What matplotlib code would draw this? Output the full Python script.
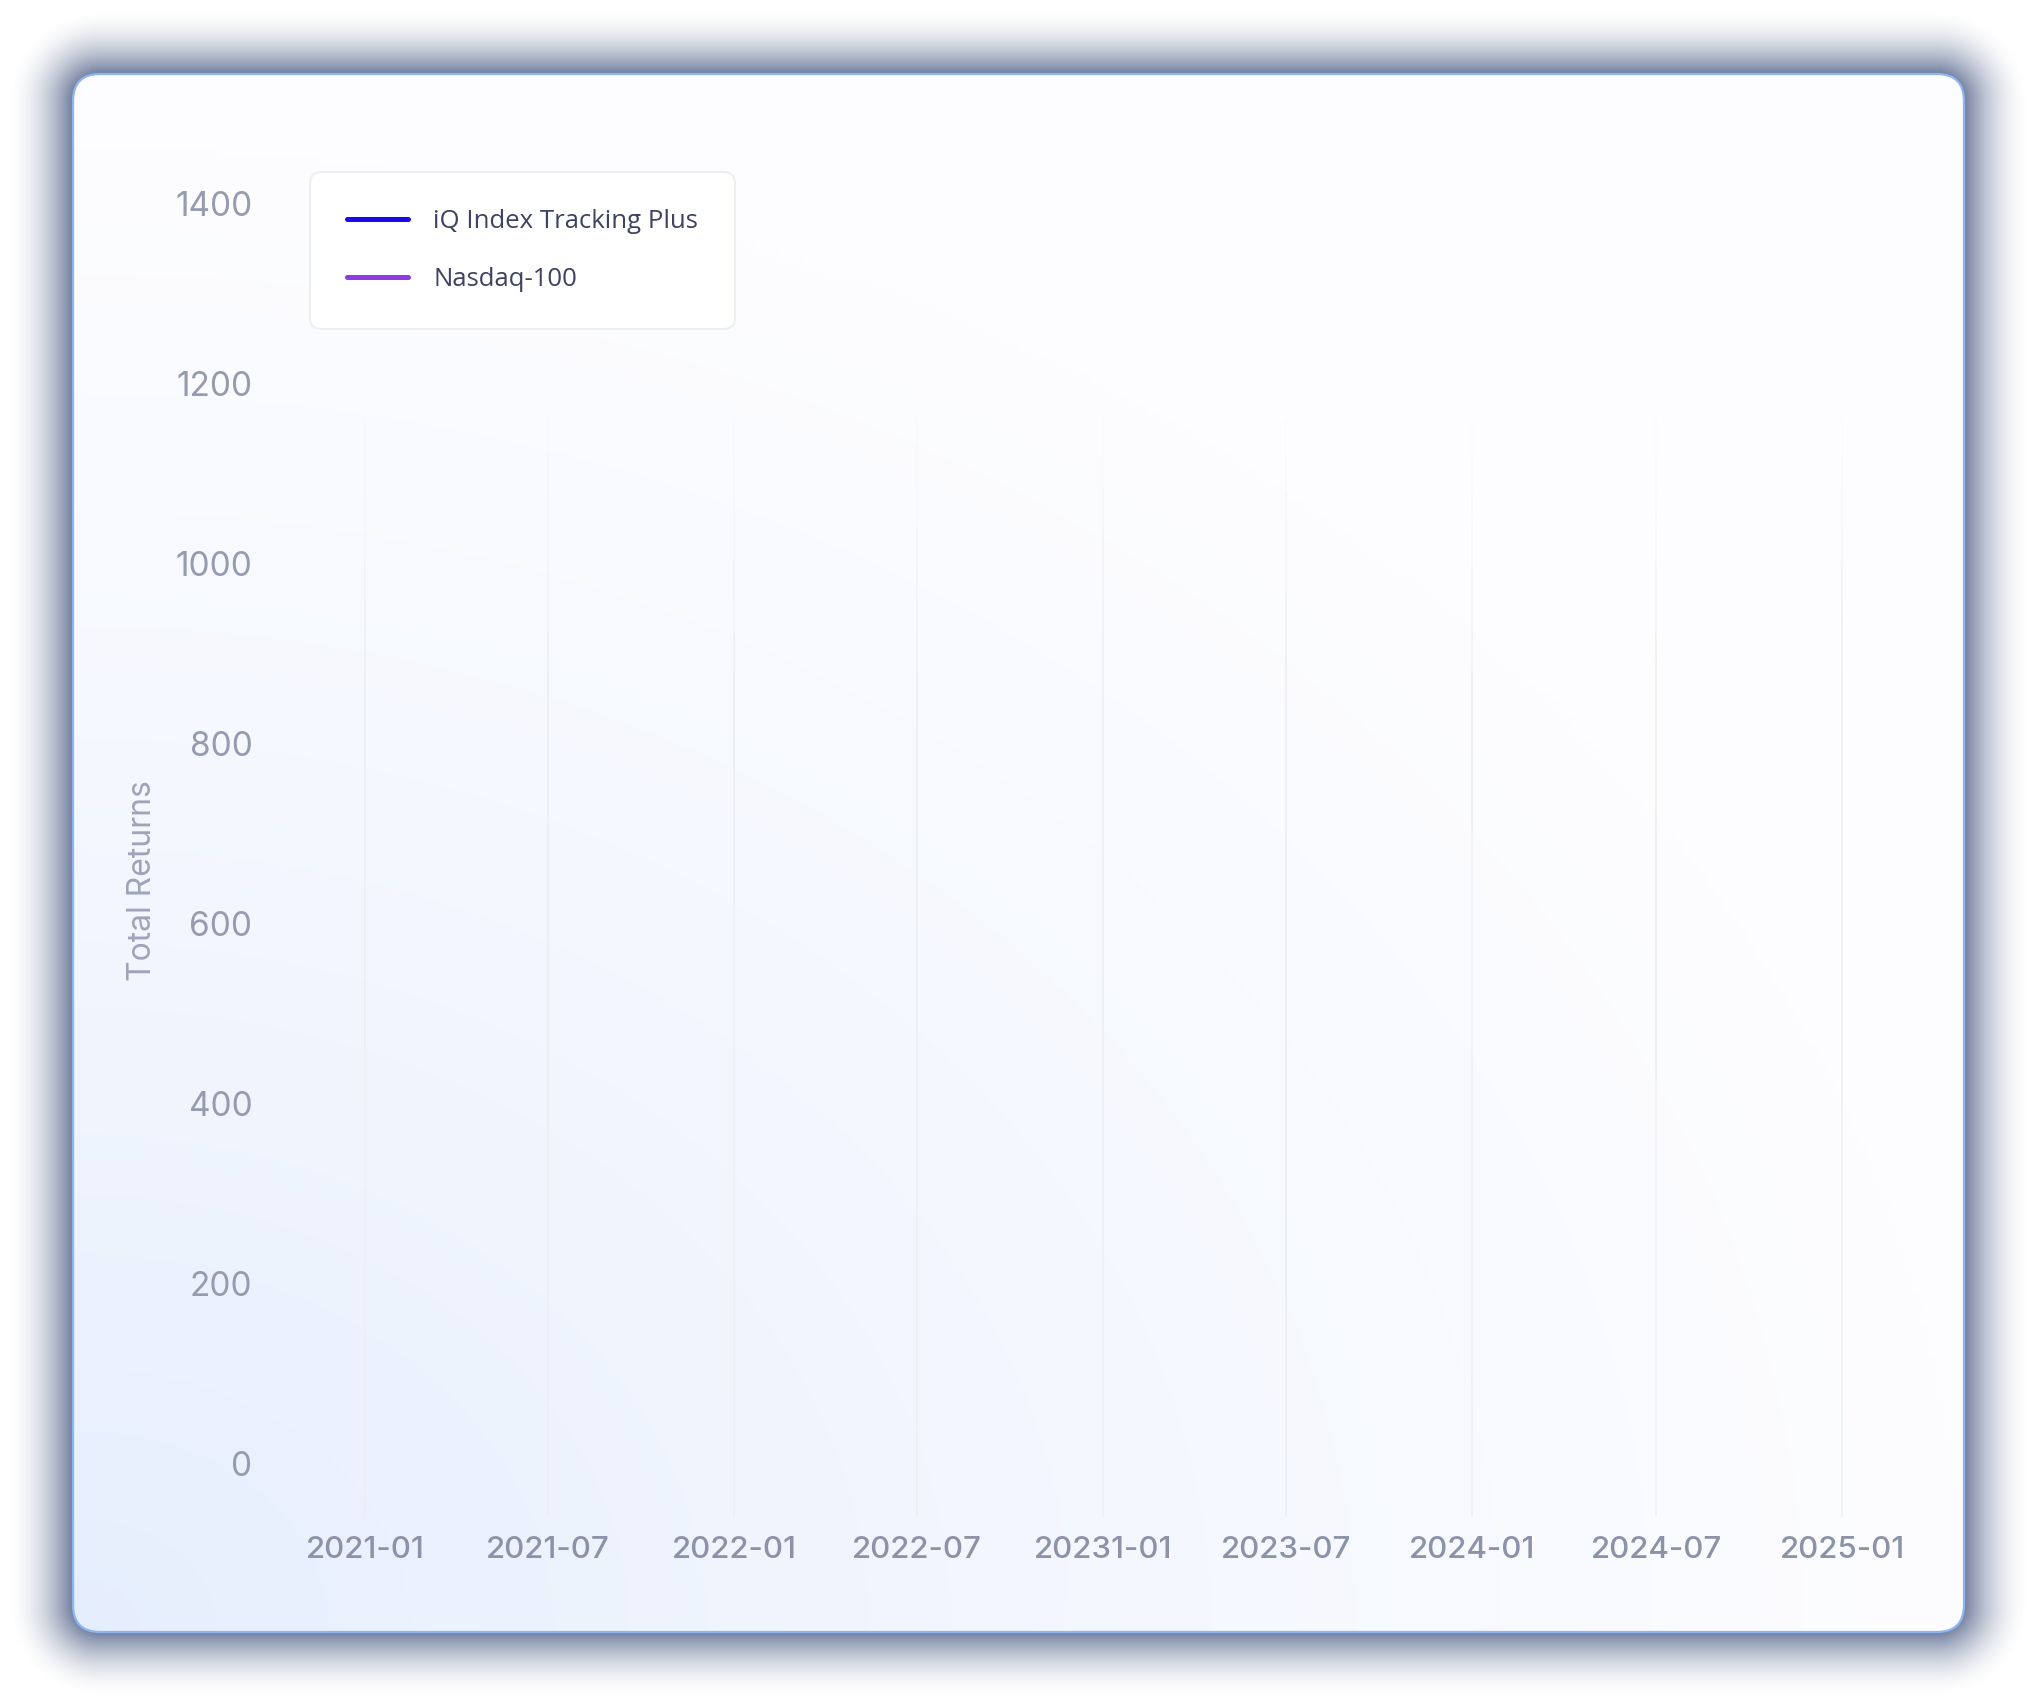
import numpy as np
import pandas as pd
import matplotlib
matplotlib.use("Agg")
import matplotlib.pyplot as plt
from matplotlib.patches import FancyBboxPatch

# data (series are empty in the reference, only the legend shows them)
series_names = ["iQ Index Tracking Plus", "Nasdaq-100"]
series_colors = ["#1a0aeb", "#8c3ce1"]
iq_dates = []
iq_values = []
ndx_dates = []
ndx_values = []

tick_dates = pd.to_datetime(["2021-01-01", "2021-07-01", "2022-01-01", "2022-07-01",
                             "2023-01-01", "2023-07-01", "2024-01-01", "2024-07-01",
                             "2025-01-01"])
tick_labels = ["2021-01", "2021-07", "2022-01", "2022-07", "20231-01",
               "2023-07", "2024-01", "2024-07", "2025-01"]
y_ticks = [0, 200, 400, 600, 800, 1000, 1200, 1400]

# sizes (pixels)
W, H = 2040, 1705
cx0, cy0, cx1, cy1 = 73, 74, 1964, 1632
rad = 27

fig = plt.figure(figsize=(W/100, H/100), dpi=100)
fig.patch.set_facecolor("white")

# background axes in pixel coords
bg = fig.add_axes([0, 0, 1, 1])
bg.set_xlim(0, W); bg.set_ylim(H, 0); bg.axis("off")

# shadow
yy, xx = np.mgrid[0:H, 0:W] + 0.5
mx, my = (cx0+cx1)/2, (cy0+cy1)/2
hx, hy = (cx1-cx0)/2, (cy1-cy0)/2
qx = np.abs(xx-mx) - (hx-rad)
qy = np.abs(yy-my) - (hy-rad)
d = np.hypot(np.maximum(qx, 0), np.maximum(qy, 0)) + np.minimum(np.maximum(qx, qy), 0) - rad
t = np.clip(d/66, 0, 1)
sh = np.zeros((H, W, 4))
sh[..., 0] = 40/255; sh[..., 1] = 61/255; sh[..., 2] = 109/255
sh[..., 3] = 0.66*(1-t)**1.9
bg.imshow(sh, extent=(0, W, H, 0), origin="upper", zorder=0, interpolation="bilinear")

# card with gradient
card = FancyBboxPatch((cx0, cy0), cx1-cx0, cy1-cy0,
                      boxstyle="round,pad=0,rounding_size=%d" % rad,
                      fc="none", ec="#8db5f3", lw=1.6, zorder=3)
bg.add_patch(card)
gy, gx = np.mgrid[0:200, 0:240]
u = gx/239.0
yb = 1 - gy/199.0
r = np.clip(np.hypot(u, yb*1.05), 0, 1)**0.8
c_blue = np.array([229, 238, 253])/255
c_white = np.array([253, 253, 255])/255
grad = c_blue[None, None, :] + (c_white-c_blue)[None, None, :]*r[..., None]
im = bg.imshow(grad, extent=(cx0, cx1, cy1, cy0), origin="upper", zorder=1,
               interpolation="bilinear")
clipper = FancyBboxPatch((cx0, cy0), cx1-cx0, cy1-cy0,
                         boxstyle="round,pad=0,rounding_size=%d" % rad,
                         fc="none", ec="none", transform=bg.transData)
bg.add_patch(clipper)
im.set_clip_path(clipper)

# main axes
ax_l, ax_r, ax_t, ax_b = 290, 1920, 158, 1517
ax = fig.add_axes([ax_l/W, 1-ax_b/H, (ax_r-ax_l)/W, (ax_b-ax_t)/H])
ax.set_facecolor("none")
for s in ax.spines.values():
    s.set_visible(False)

ax.plot(iq_dates, iq_values, color=series_colors[0], lw=3, label=series_names[0])
ax.plot(ndx_dates, ndx_values, color=series_colors[1], lw=3, label=series_names[1])

ax.set_xlim(tick_dates[0]-pd.Timedelta(days=74), tick_dates[-1]+pd.Timedelta(days=77))
ax.set_ylim(-60, 1450)

# gridlines fading out towards the top
ax.vlines(tick_dates, -60, 880, color="#eceff4", lw=1.2, zorder=0)
steps = np.linspace(880, 1160, 8)
for k in range(len(steps)-1):
    ax.vlines(tick_dates, steps[k], steps[k+1], color="#eceff4", lw=1.2, zorder=0,
              alpha=1-(k+1)/len(steps))

ax.set_xticks(tick_dates)
ax.set_xticklabels(tick_labels, fontfamily="Inter", fontsize=22.5, fontweight="medium", color="#8c93a8")
ax.set_yticks(y_ticks)
ax.set_yticklabels([str(v) for v in y_ticks], fontfamily="Inter", fontsize=24, color="#959cb0")
ax.tick_params(axis="x", length=0, pad=14)
ax.tick_params(axis="y", length=0, pad=27)

ax.set_ylabel("Total Returns", fontfamily="Inter", fontsize=23, color="#9ea5b8")
ax.yaxis.label.set_va("center")
ax.yaxis.set_label_coords((143-ax_l)/(ax_r-ax_l), (ax_b-881)/(ax_b-ax_t))

leg = ax.legend(loc="upper left", bbox_to_anchor=(310/W, 1-172/H), bbox_transform=fig.transFigure,
                borderaxespad=0, frameon=True, fancybox=True,
                prop={"family": "Open Sans", "size": 18.5, "weight": "medium"},
                labelcolor="#3d4360", handlelength=2.37, handletextpad=0.97,
                borderpad=1.45, labelspacing=1.28)
fr = leg.get_frame()
fr.set_facecolor("white"); fr.set_alpha(1); fr.set_edgecolor("#eceef3"); fr.set_linewidth(1.5)
fr.set_boxstyle("round", pad=0, rounding_size=0.45)
for ln in leg.get_lines():
    ln.set_linewidth(3.6)
    ln.set_solid_capstyle("round")

fig.savefig("out.png", dpi=100)
